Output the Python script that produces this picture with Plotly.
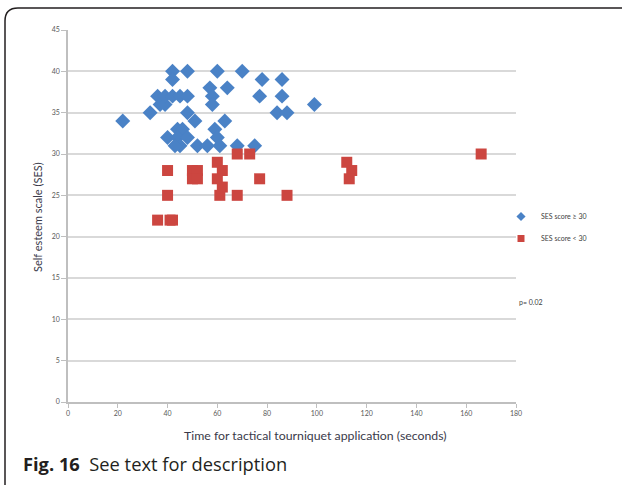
import plotly.graph_objects as go

# ---- data ----
high_x = [22, 33, 36, 37, 39, 39, 42, 45, 48, 42, 48, 42, 48, 51, 40, 44, 46, 44, 45, 48, 52, 56,
          60, 70, 78, 86, 57, 64, 58, 58, 77, 86, 99, 84, 88, 63, 59, 60, 61, 68, 75, 43]
high_y = [34, 35, 37, 36, 36, 37, 37, 37, 37, 40, 40, 39, 35, 34, 32, 33, 33, 32, 31, 32, 31, 31,
          40, 40, 39, 39, 38, 38, 37, 36, 37, 37, 36, 35, 35, 34, 33, 32, 31, 31, 31, 31]
low_x = [36, 41, 42, 40, 40, 50, 52, 50, 52, 60, 62, 60, 62, 61, 68, 68, 73, 77, 88, 112, 114, 113, 166]
low_y = [22, 22, 22, 28, 25, 28, 28, 27, 27, 29, 28, 27, 26, 25, 25, 30, 30, 27, 25, 29, 28, 27, 30]
x_ticks = [0, 20, 40, 60, 80, 100, 120, 140, 160, 180]
y_ticks = [0, 5, 10, 15, 20, 25, 30, 35, 40, 45]
series_names = ["SES score \u2265 30", "SES score < 30"]

W, H = 622, 485
L, R, T, B = 68, 106, 30, 83
PW, PH = W - L - R, H - T - B

BLUE = "#4A82C6"
RED = "#CC4640"


def px(x):
    return (x - L) / PW


def py(y):
    return (H - B - y) / PH


fig = go.Figure()
fig.add_trace(go.Scatter(x=high_x, y=high_y, mode="markers", name=series_names[0],
                         showlegend=False,
                         marker=dict(symbol="diamond", size=11.5, color=BLUE,
                                     line=dict(width=0))))
fig.add_trace(go.Scatter(x=low_x, y=low_y, mode="markers", name=series_names[1],
                         showlegend=False,
                         marker=dict(symbol="square", size=11, color=RED,
                                     line=dict(width=0))))
# legend-only entries with small keys
fig.add_trace(go.Scatter(x=[None], y=[None], mode="markers", name=series_names[0],
                         legendgroup="a",
                         marker=dict(symbol="diamond", size=7, color=BLUE)))
fig.add_trace(go.Scatter(x=[None], y=[None], mode="markers", name=series_names[1],
                         legendgroup="b",
                         marker=dict(symbol="square", size=7, color=RED)))

axis_font = dict(family="Lato, Liberation Sans, sans-serif", size=7, color="#595959")
fig.update_xaxes(range=[0, 180], tickvals=x_ticks, showgrid=False, zeroline=False,
                 showline=True, linecolor="#BFBFBF", linewidth=1.5,
                 ticks="outside", ticklen=4, tickcolor="#BFBFBF", tickwidth=1,
                 tickfont=axis_font, fixedrange=True)
fig.update_yaxes(range=[0, 45], tickvals=y_ticks, showgrid=True, gridcolor="#D9D9D9",
                 gridwidth=1.5, zeroline=False, showline=True, linecolor="#BFBFBF",
                 linewidth=1.5, ticks="outside", ticklen=5, tickcolor="#BFBFBF",
                 tickfont=axis_font, fixedrange=True)

# rounded frame
x0, y0, x1, y1, r = 5, 8, 640, 500, 13
path = (f"M {px(x1)},{py(y0)} L {px(x0 + r)},{py(y0)} "
        f"Q {px(x0)},{py(y0)} {px(x0)},{py(y0 + r)} "
        f"L {px(x0)},{py(y1 - r)} Q {px(x0)},{py(y1)} {px(x0 + r)},{py(y1)}")
fig.add_shape(type="path", path=path, xref="paper", yref="paper",
              line=dict(color="#231F20", width=1.5))

title_color = "#3a3a4a"
fig.add_annotation(text="Time for tactical tourniquet application (seconds)",
                   x=px(315), y=py(436), xref="paper", yref="paper",
                   showarrow=False, xanchor="center", yanchor="middle",
                   font=dict(family="Lato, Liberation Sans, sans-serif", size=12.3, color=title_color))
fig.add_annotation(text="Self esteem scale (SES)", x=px(37), y=py(217),
                   xref="paper", yref="paper", showarrow=False, textangle=-90,
                   font=dict(family="Lato, Liberation Sans, sans-serif", size=11, color=title_color),
                   xanchor="center", yanchor="middle")
fig.add_annotation(text="p= 0.02", x=px(517), y=py(302), xref="paper", yref="paper",
                   showarrow=False, xanchor="left", yanchor="middle",
                   font=dict(family="Lato, Liberation Sans, sans-serif", size=7, color="#404040"))
fig.add_annotation(text="<b>Fig. 16</b>  See text for description", x=px(21), y=py(463),
                   xref="paper", yref="paper", showarrow=False, xanchor="left",
                   yanchor="middle",
                   font=dict(family="Open Sans, sans-serif", size=18.3, color="#231F20"))

fig.update_layout(
    width=W, height=H, margin=dict(l=L, r=R, t=T, b=B, autoexpand=False),
    paper_bgcolor="white", plot_bgcolor="white",
    showlegend=True,
    legend=dict(x=px(501), y=py(202), xanchor="left", yanchor="top",
                font=dict(family="Lato, Liberation Sans, sans-serif", size=7, color="#404040"),
                bgcolor="rgba(0,0,0,0)", itemwidth=30, tracegroupgap=3,
                traceorder="grouped"),
)

fig.write_html("out.html")
